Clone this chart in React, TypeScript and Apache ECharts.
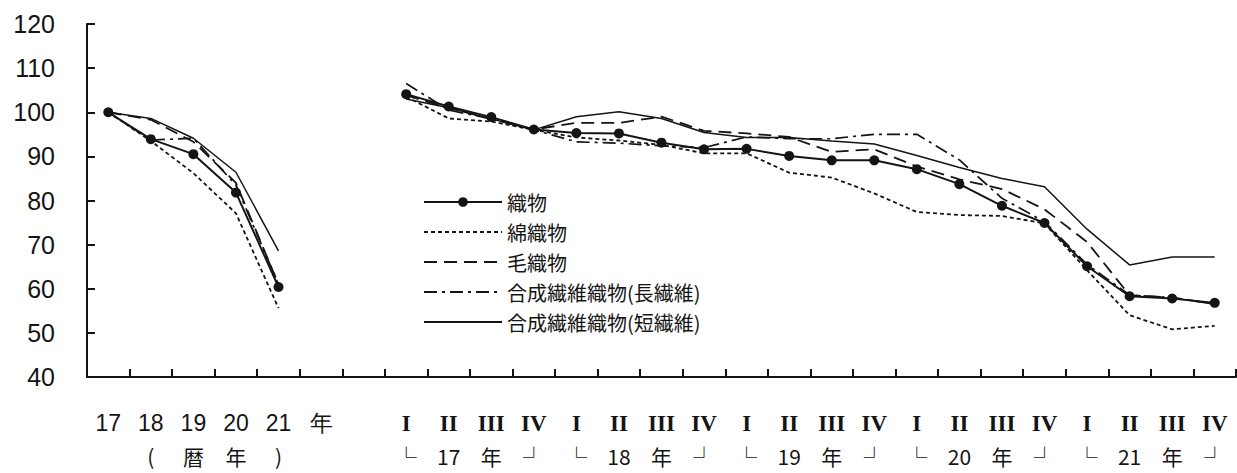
import React, { useEffect, useRef } from "react";
import * as echarts from "echarts";

// ---- categories / tick labels ----
const annualYears = ["17", "18", "19", "20", "21"];
const annualUnit = "年";
const annualNote = ["", "(", "暦", "年", ")"];
const quarterNames = ["I", "II", "III", "IV"];
const quarterYears = ["17", "18", "19", "20", "21"];
const quarterNoteLeft = "└";
const quarterNoteUnit = "年";
const quarterNoteRight = "┘";
const yMin = 40;
const yMax = 120;
const yStep = 10;

// ---- series values (annual 17..21, then quarterly 17-I .. 21-IV) ----
const orimonoAnnual = [100, 93.9, 90.5, 81.8, 60.4];
const orimonoQuarterly = [104.1, 101.3, 98.9, 96.1, 95.3, 95.2, 93.1, 91.6, 91.7, 90.1, 89.1, 89.1, 87.1, 83.7, 78.8, 74.9, 65.1, 58.3, 57.8, 56.8];

const menAnnual = [100, 93.5, 86.2, 77.1, 55.6];
const menQuarterly = [103.5, 98.6, 97.9, 96.0, 94.3, 93.6, 92.6, 90.7, 90.7, 86.3, 85.2, 81.6, 77.4, 76.7, 76.5, 74.8, 64.2, 54.0, 50.8, 51.6];

const keAnnual = [100, 98.3, 93.3, 84.0, 61.0];
const keQuarterly = [103.8, 101.0, 98.5, 96.1, 97.6, 97.6, 99.0, 95.8, 95.2, 94.4, 91.0, 91.6, 87.7, 84.8, 82.6, 78.0, 70.6, 58.5, 58.0, 56.5];

const chouAnnual = [100, 93.7, 94.1, 83.5, 61.0];
const chouQuarterly = [106.5, 100.5, 98.5, 96.0, 93.3, 93.0, 92.4, 92.0, 94.4, 94.0, 94.0, 95.0, 95.0, 89.2, 80.5, 75.2, 65.5, 58.6, 58.0, 56.5];

const tanAnnual = [100, 98.6, 94.1, 86.4, 68.6];
const tanQuarterly = [103.0, 101.0, 98.5, 96.0, 99.0, 100.1, 98.6, 95.4, 94.3, 94.3, 93.5, 92.8, 90.2, 87.5, 85.0, 83.1, 73.5, 65.4, 67.2, 67.2];

const seriesNames = ["織物", "綿織物", "毛織物", "合成繊維織物(長繊維)", "合成繊維織物(短繊維)"];

// ---- build category axis (annual, unit label, blank, quarters) ----
const topLabels: string[] = [];
const bottomLabels: string[] = [];
const labelKinds: string[] = [];
annualYears.forEach((y, i) => {
  topLabels.push(y);
  bottomLabels.push(annualNote[i]);
  labelKinds.push("n");
});
topLabels.push(annualUnit);
bottomLabels.push("");
labelKinds.push("n");
topLabels.push("");
bottomLabels.push("");
labelKinds.push("n");
quarterYears.forEach((y) => {
  const notes = [quarterNoteLeft, y, quarterNoteUnit, quarterNoteRight];
  quarterNames.forEach((q, qi) => {
    topLabels.push(q);
    bottomLabels.push(notes[qi]);
    labelKinds.push("r");
  });
});
const categories = topLabels.map((_, i) => "c" + i);
const gapCount = 2;

function buildData(annual: number[], quarterly: number[]) {
  const gap: (number | null)[] = [];
  for (let i = 0; i < gapCount; i++) gap.push(null);
  return [...annual, ...gap, ...quarterly];
}

export default function App() {
  const ref = useRef<HTMLDivElement>(null);
  useEffect(() => {
    if (!ref.current) return;
    const chart = echarts.init(ref.current, null, { renderer: "svg" });
    const ink = "#141414";
    const common = { type: "line", connectNulls: false, silent: true };
    const noSymbol = { itemStyle: { color: "rgba(0,0,0,0)", borderWidth: 0, opacity: 0 } };
    chart.setOption({
      animation: false,
      backgroundColor: "#ffffff",
      grid: { left: 87, right: 1, top: 24, bottom: 96, containLabel: false },
      legend: {
        orient: "vertical",
        left: 423,
        top: 191,
        padding: 0,
        itemWidth: 78,
        itemHeight: 12,
        itemGap: 8,
        selectedMode: false,
        textStyle: { fontSize: 20, lineHeight: 22, color: ink, fontFamily: "Noto Sans CJK JP" },
        data: [
          { name: seriesNames[0] },
          { name: seriesNames[1], ...noSymbol },
          { name: seriesNames[2], ...noSymbol },
          { name: seriesNames[3], ...noSymbol },
          { name: seriesNames[4], ...noSymbol },
        ],
      },
      xAxis: {
        type: "category",
        data: categories,
        boundaryGap: true,
        axisLine: { lineStyle: { color: ink, width: 2 } },
        axisTick: { show: true, inside: true, length: 8, interval: 0, lineStyle: { color: ink, width: 2 } },
        axisLabel: {
          interval: 0,
          margin: 24,
          color: ink,
          formatter: (_v: string, i: number) => {
            const t = topLabels[i];
            const b = bottomLabels[i];
            if (!t) return "";
            const tk = labelKinds[i] === "r" ? "r" : "t";
            return b ? `{${tk}|${t}}\n{b|${b}}` : `{${tk}|${t}}`;
          },
          rich: {
            t: { fontSize: 23, lineHeight: 44, fontFamily: "Liberation Sans", color: ink },
            r: { fontSize: 23, lineHeight: 44, fontFamily: "Liberation Serif", fontWeight: "bold", color: ink },
            b: { fontSize: 21, lineHeight: 22, fontFamily: "Noto Sans CJK JP", color: ink },
          },
        },
        splitLine: { show: false },
      },
      yAxis: {
        type: "value",
        min: yMin,
        max: yMax,
        interval: yStep,
        axisLine: { show: true, lineStyle: { color: ink, width: 2 } },
        axisTick: { show: true, inside: true, length: 8, lineStyle: { color: ink, width: 2 } },
        axisLabel: { margin: 32, fontSize: 25, fontFamily: "Liberation Sans", color: ink },
        splitLine: { show: false },
      },
      series: [
        {
          ...common,
          name: seriesNames[0],
          data: buildData(orimonoAnnual, orimonoQuarterly),
          symbol: "circle",
          symbolSize: 10,
          itemStyle: { color: ink },
          lineStyle: { color: ink, width: 2, type: "solid" },
          z: 5,
        },
        {
          ...common,
          name: seriesNames[1],
          data: buildData(menAnnual, menQuarterly),
          symbol: "none",
          itemStyle: { color: ink },
          lineStyle: { color: ink, width: 1.8, type: [4, 3] },
        },
        {
          ...common,
          name: seriesNames[2],
          data: buildData(keAnnual, keQuarterly),
          symbol: "none",
          itemStyle: { color: ink },
          lineStyle: { color: ink, width: 1.8, type: [13, 7] },
        },
        {
          ...common,
          name: seriesNames[3],
          data: buildData(chouAnnual, chouQuarterly),
          symbol: "none",
          itemStyle: { color: ink },
          lineStyle: { color: ink, width: 1.7, type: [13, 5, 3, 5] },
        },
        {
          ...common,
          name: seriesNames[4],
          data: buildData(tanAnnual, tanQuarterly),
          symbol: "none",
          itemStyle: { color: ink },
          lineStyle: { color: ink, width: 1.5, type: "solid" },
        },
      ],
    });
    return () => chart.dispose();
  }, []);
  return (
    <div
      ref={ref}
      style={{ position: "fixed", left: 0, top: 0, width: 1237, height: 473, background: "#fff" }}
    />
  );
}
